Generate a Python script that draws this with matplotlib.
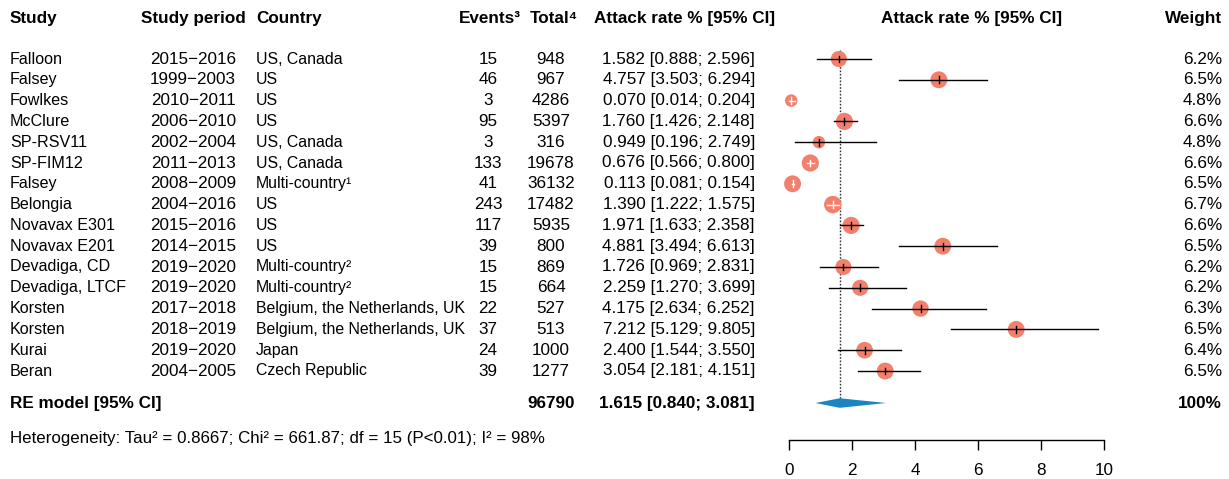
import numpy as np
import matplotlib.pyplot as plt

plt.rcParams['font.family'] = ['Liberation Sans', 'DejaVu Sans']

study = ['Falloon', 'Falsey', 'Fowlkes', 'McClure', 'SP-RSV11', 'SP-FIM12',
         'Falsey', 'Belongia', 'Novavax E301', 'Novavax E201', 'Devadiga, CD',
         'Devadiga, LTCF', 'Korsten', 'Korsten', 'Kurai', 'Beran']
period = ['2015−2016', '1999−2003', '2010−2011', '2006−2010', '2002−2004',
          '2011−2013', '2008−2009', '2004−2016', '2015−2016', '2014−2015',
          '2019−2020', '2019−2020', '2017−2018', '2018−2019', '2019−2020',
          '2004−2005']
country = ['US, Canada', 'US', 'US', 'US', 'US, Canada', 'US, Canada',
           'Multi-country¹', 'US', 'US', 'US', 'Multi-country²', 'Multi-country²',
           'Belgium, the Netherlands, UK', 'Belgium, the Netherlands, UK',
           'Japan', 'Czech Republic']
events = [15, 46, 3, 95, 3, 133, 41, 243, 117, 39, 15, 15, 22, 37, 24, 39]
total = [948, 967, 4286, 5397, 316, 19678, 36132, 17482, 5935, 800, 869, 664,
         527, 513, 1000, 1277]
rate = [1.582, 4.757, 0.070, 1.760, 0.949, 0.676, 0.113, 1.390, 1.971, 4.881,
        1.726, 2.259, 4.175, 7.212, 2.400, 3.054]
lower = [0.888, 3.503, 0.014, 1.426, 0.196, 0.566, 0.081, 1.222, 1.633, 3.494,
         0.969, 1.270, 2.634, 5.129, 1.544, 2.181]
upper = [2.596, 6.294, 0.204, 2.148, 2.749, 0.800, 0.154, 1.575, 2.358, 6.613,
         2.831, 3.699, 6.252, 9.805, 3.550, 4.151]
weight = [6.2, 6.5, 4.8, 6.6, 4.8, 6.6, 6.5, 6.7, 6.6, 6.5, 6.2, 6.2, 6.3, 6.5,
          6.4, 6.5]

pooled = [1.615, 0.840, 3.081]
pooled_total = 96790
xticks = [0, 2, 4, 6, 8, 10]
hetero = ('Heterogeneity: Tau² = 0.8667; Chi² = 661.87; df = 15 (P<0.01); '
          'I² = 98%')

W, H = 1229, 479
FS = 12.3                    # numbers and headers
FS_NAME = 11.6               # study names
FS_COUNTRY = 11.4            # country names (narrower in the original)
ROW0, DY = 59, 20.8          # pixel y of first row, row spacing
RE_ROW = 16.54
PX_PER_UNIT = 31.5           # forest scale
X0_PX = 789                  # pixel of 0 on forest axis


def main():
    fig = plt.figure(figsize=(W / 100, H / 100), dpi=100)

    # text layer in pixel coordinates
    tx = fig.add_axes([0, 0, 1, 1])
    tx.set_xlim(0, W)
    tx.set_ylim(H, 0)
    tx.axis('off')

    bold = dict(fontsize=FS, fontweight='bold', va='center')
    tx.text(10, 18, 'Study', ha='left', **bold)
    tx.text(193, 18, 'Study period', ha='center', **bold)
    tx.text(256, 18, 'Country', ha='left', **bold)
    tx.text(490, 18, 'Events³', ha='center', **bold)
    tx.text(554, 18, 'Total⁴', ha='center', **bold)
    tx.text(685, 18, 'Attack rate % [95% CI]', ha='center', **bold)
    tx.text(972, 18, 'Attack rate % [95% CI]', ha='center', **bold)
    tx.text(1222, 18, 'Weight', ha='right', **bold)

    for i in range(len(study)):
        y = ROW0 + i * DY
        tx.text(10, y, study[i], fontsize=FS_NAME, ha='left', va='center')
        tx.text(193, y, period[i], fontsize=FS, ha='center', va='center')
        tx.text(256, y, country[i], fontsize=FS_COUNTRY, ha='left',
                va='center')
        tx.text(488, y, str(events[i]), fontsize=FS, ha='center', va='center')
        tx.text(551, y, str(total[i]), fontsize=FS, ha='center', va='center')
        tx.text(755, y, f'{rate[i]:.3f} [{lower[i]:.3f}; {upper[i]:.3f}]',
                fontsize=FS, ha='right', va='center')
        tx.text(1222, y, f'{weight[i]:.1f}%', fontsize=FS, ha='right',
                va='center')

    y_re = ROW0 + RE_ROW * DY
    tx.text(10, y_re, 'RE model [95% CI]', ha='left', **bold)
    tx.text(551, y_re, str(pooled_total), ha='center', **bold)
    tx.text(755, y_re, f'{pooled[0]:.3f} [{pooled[1]:.3f}; {pooled[2]:.3f}]',
            ha='right', **bold)
    tx.text(1222, y_re, '100%', ha='right', **bold)
    tx.text(10, 439, hetero, fontsize=12.2, ha='left', va='center')

    # forest axes
    left_px, right_px, bottom_px = 760, 1130, 440
    ax = fig.add_axes([left_px / W, (H - bottom_px) / H,
                       (right_px - left_px) / W, bottom_px / H])
    ax.patch.set_alpha(0)
    ax.set_xlim((left_px - X0_PX) / PX_PER_UNIT,
                (right_px - X0_PX) / PX_PER_UNIT)
    ax.set_ylim((bottom_px - ROW0) / DY, -ROW0 / DY)

    rows = np.arange(len(study))
    diam_px = np.array(weight) * 2.6
    ax.scatter(rate, rows, s=(diam_px * 0.72) ** 2, color='#F3806D',
               edgecolors='none', zorder=2)
    for i in rows:
        inside = (upper[i] - lower[i]) * PX_PER_UNIT < diam_px[i]
        col = 'white' if inside else 'black'
        ax.plot([lower[i], upper[i]], [i, i], color=col, lw=1.0, zorder=3)
        ax.plot([rate[i], rate[i]], [i - 0.16, i + 0.16], color=col, lw=1.0,
                zorder=3)

    ax.vlines(pooled[0], -0.45, RE_ROW - 0.2, color='#333333', lw=1.0,
              linestyles=(0, (1.2, 1.2)), zorder=1)
    hh = 0.23
    ax.fill([pooled[1], pooled[0], pooled[2], pooled[0]],
            [RE_ROW, RE_ROW - hh, RE_ROW, RE_ROW + hh],
            color='#1A85C0', lw=0, zorder=2)

    for s in ['top', 'left', 'right']:
        ax.spines[s].set_visible(False)
    ax.spines['bottom'].set_bounds(0, 10)
    ax.spines['bottom'].set_linewidth(1.0)
    ax.set_yticks([])
    ax.set_xticks(xticks)
    ax.tick_params(axis='x', direction='out', length=7.2, width=1.0,
                   labelsize=FS, pad=9.5)

    plt.savefig('out.png', dpi=100)


if __name__ == '__main__':
    main()
